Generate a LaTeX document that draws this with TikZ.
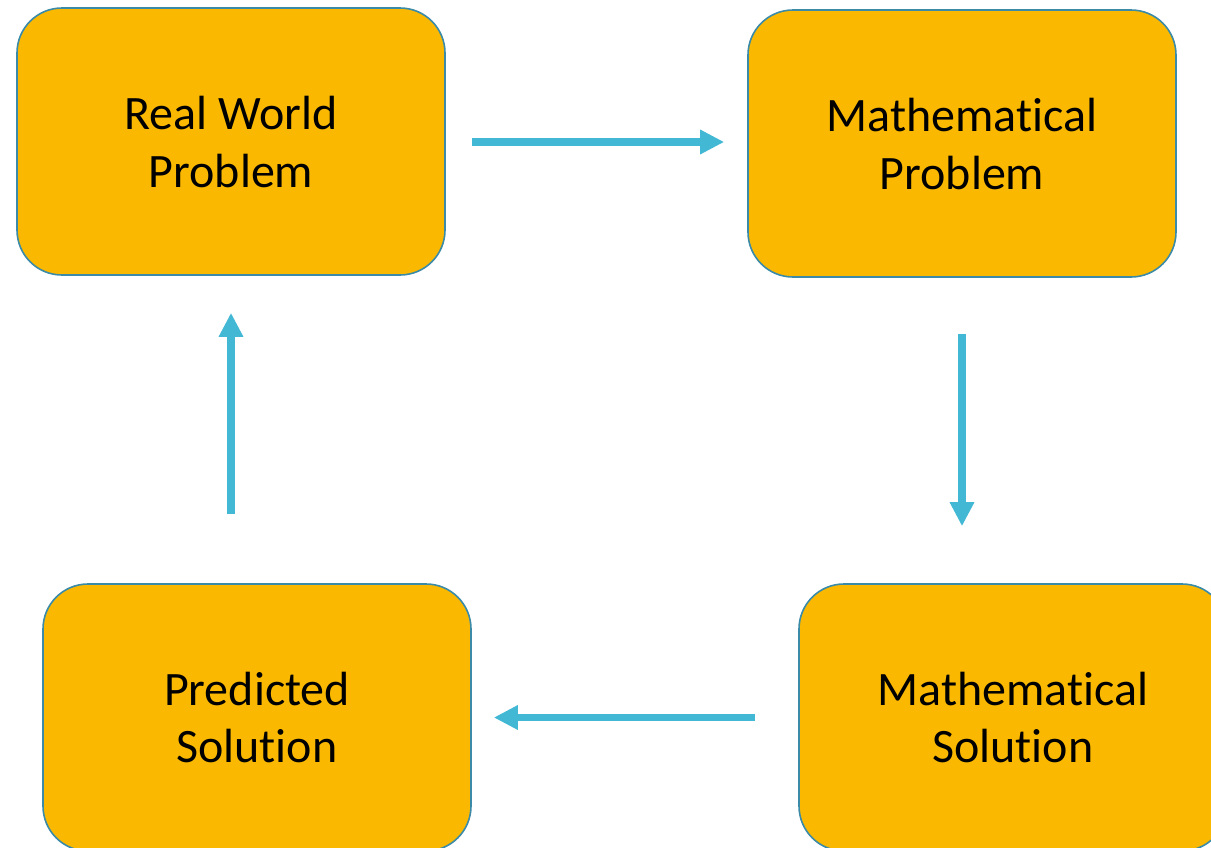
\documentclass[tikz,border=0pt]{standalone}
\usepackage{fontspec}
\setmainfont{Carlito}[Ligatures=NoCommon]
\usetikzlibrary{arrows.meta}
\definecolor{boxfill}{HTML}{FAB900}
\definecolor{boxline}{HTML}{3A8AA8}
\definecolor{arrowc}{HTML}{42B8D4}
\begin{document}
\begin{tikzpicture}[x=1pt,y=-1pt,
  stagebox/.style={draw=boxline, line width=1.6pt, fill=boxfill, rounded corners=45pt,
    minimum width=428pt, minimum height=267pt, align=center, inner sep=0pt,
    font=\fontsize{48}{58}\selectfont},
  flow/.style={draw=arrowc, line width=7.5pt, -{Triangle[length=24pt,width=23pt]}}]
\useasboundingbox (0,0) rectangle (1211,847);
\node[stagebox] (b1) at (231,141.5) {Real World\\Problem};
\node[stagebox] (b2) at (962,143.5) {Mathematical\\Problem};
\node[stagebox] (b3) at (257,717.5) {Predicted\\Solution};
\node[stagebox] (b4) at (1013,717.5) {Mathematical\\Solution};
\draw[flow, shorten <=26pt, shorten >=23pt] ([yshift=-0.5pt]b1.east) -- ([yshift=-0.5pt]b1.east -| b2.west);
\draw[flow, shorten <=56pt, shorten >=57pt] (b2.south) -- (b2.south |- b4.north);
\draw[flow, shorten <=43pt, shorten >=22pt] (b4.west) -- (b3.east);
\draw[flow, shorten <=69pt, shorten >=37pt] (b1.south |- b3.north) -- (b1.south);
\end{tikzpicture}
\end{document}
